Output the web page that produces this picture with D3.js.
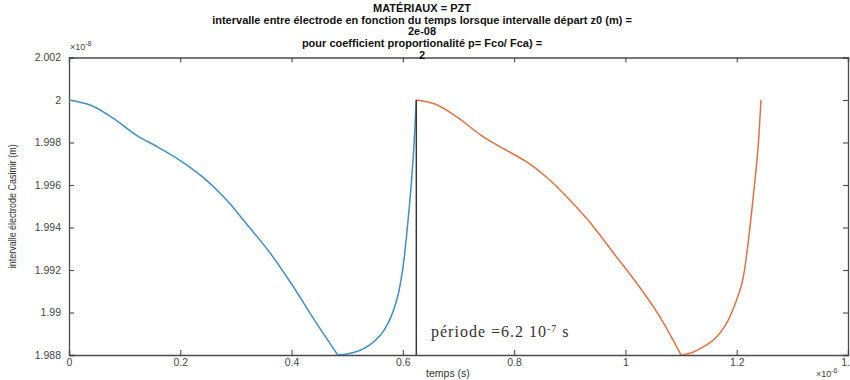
<!DOCTYPE html>
<html>
<head>
<meta charset="utf-8">
<script src="https://cdn.jsdelivr.net/npm/d3@7"></script>
<style>
  body { margin: 0; background: #fff; }
  svg { display: block; }
</style>
</head>
<body>
<div id="chart"></div>
<script>
// # Title lines (bold, centred)
const titleLines = [
  'MATÉRIAUX = PZT',
  'intervalle entre électrode en fonction du temps lorsque intervalle départ z0 (m) =',
  '2e-08',
  'pour coefficient proportionalité p= Fco/ Fca) =',
  '2'
]

// # Axis ticks (time in 1e-6 s, gap in 1e-8 m)
const xTicks = [0, 0.2, 0.4, 0.6, 0.8, 1, 1.2, 1.4]
const yTicks = [1.988, 1.99, 1.992, 1.994, 1.996, 1.998, 2, 2.002]

// # First cycle (blue)
const cycle1T = [0, 0.04, 0.08, 0.12, 0.16, 0.20, 0.24, 0.28, 0.32, 0.36, 0.40, 0.44, 0.483,
  0.50, 0.52, 0.54, 0.56, 0.575, 0.59, 0.60, 0.608, 0.615, 0.62, 0.6242]
const cycle1Z = [2.0, 1.99974, 1.99913, 1.99836, 1.99778, 1.99715, 1.99638, 1.99539, 1.99414,
  1.99285, 1.99134, 1.98969, 1.98800,
  1.98805, 1.98819, 1.98847, 1.98894, 1.98958, 1.99068, 1.99209, 1.99398, 1.99600, 1.99788, 2.0]

// # Second cycle (orange)
const cycle2T = [0.6242, 0.66, 0.70, 0.74, 0.78, 0.82, 0.86, 0.90, 0.94, 0.98, 1.02, 1.06, 1.10,
  1.12, 1.14, 1.16, 1.18, 1.195, 1.21, 1.22, 1.23, 1.238, 1.2436]
const cycle2Z = [2.0, 1.99979, 1.99915, 1.99835, 1.99772, 1.99713, 1.99633, 1.99529, 1.99412,
  1.99275, 1.99139, 1.98988, 1.98800,
  1.98812, 1.98838, 1.98875, 1.98941, 1.99026, 1.99144, 1.99318, 1.99553, 1.99765, 2.0]

// # Period marker
const periodT = 0.6242
const periodLabel = 'période =6.2 10'
const periodExp = '-7'

// # Layout
const width = 850
const height = 380
const plot = {left: 69, right: 848, top: 57.5, bottom: 355}
const axisColor = '#4a4a4a'
const blue = '#3d8ecb'
const orange = '#e0723f'

const svg = d3.select('#chart')
  .append('svg')
  .attr('width', width)
  .attr('height', height)
  .style('font-family', 'Liberation Sans, Arial, sans-serif')

const x = d3.scaleLinear().domain([0, 1.4]).range([plot.left, plot.right])
const y = d3.scaleLinear().domain([1.988, 2.002]).range([plot.bottom, plot.top])

// # Clip for the lines
svg.append('clipPath').attr('id', 'clip')
  .append('rect')
  .attr('x', plot.left).attr('y', plot.top)
  .attr('width', plot.right - plot.left).attr('height', plot.bottom - plot.top)

// # Axes (ticks inward, MATLAB style box)
const tickFmt = d => String(+d.toFixed(3))

const xAxis = svg.append('g')
  .attr('transform', `translate(0,${plot.bottom})`)
  .call(d3.axisBottom(x).tickValues(xTicks).tickSize(-5).tickPadding(4).tickFormat(tickFmt))
const xTop = svg.append('g')
  .attr('transform', `translate(0,${plot.top})`)
  .call(d3.axisTop(x).tickValues(xTicks).tickSize(-5).tickFormat(''))
const yAxis = svg.append('g')
  .attr('transform', `translate(${plot.left},0)`)
  .call(d3.axisLeft(y).tickValues(yTicks).tickSize(-5).tickPadding(8).tickFormat(tickFmt))
const yRight = svg.append('g')
  .attr('transform', `translate(${plot.right},0)`)
  .call(d3.axisRight(y).tickValues(yTicks).tickSize(-5).tickFormat(''))

;[xAxis, xTop, yAxis, yRight].forEach(g => {
  g.select('.domain').attr('stroke', axisColor).attr('stroke-width', 1.3)
  g.selectAll('.tick line').attr('stroke', axisColor).attr('stroke-width', 1.1)
  g.selectAll('.tick text').attr('fill', '#444').style('font-size', '10.5px')
})

// # Exponent labels
const expText = (xx, yy, anchor) => {
  const t = svg.append('text')
    .attr('x', xx).attr('y', yy)
    .attr('text-anchor', anchor)
    .attr('fill', '#444')
    .style('font-size', '9px')
  t.append('tspan').text('×10')
  return t
}
expText(70, 50, 'start').append('tspan').attr('dy', -4).style('font-size', '7px').text('-8')
expText(816, 377, 'start').append('tspan').attr('dy', -4).style('font-size', '7px').text('-6')

// # Lines: each cycle is drawn as a descent and a rise that meet
// # at the minimum, so the bounce keeps its sharp corner.
const line = d3.line()
  .x(d => x(d[0]))
  .y(d => y(d[1]))
  .curve(d3.curveCatmullRom.alpha(0.5))

const lines = svg.append('g').attr('clip-path', 'url(#clip)')
const drawCycle = (ts, zs, color) => {
  const pts = d3.zip(ts, zs)
  const iMin = d3.minIndex(zs)
  ;[pts.slice(0, iMin + 1), pts.slice(iMin)].forEach(seg => {
    lines.append('path')
      .datum(seg)
      .attr('d', line)
      .attr('fill', 'none')
      .attr('stroke', color)
      .attr('stroke-width', 1.5)
      .attr('stroke-linejoin', 'round')
  })
}
drawCycle(cycle1T, cycle1Z, blue)
drawCycle(cycle2T, cycle2Z, orange)

// # Period vertical marker
svg.append('line')
  .attr('x1', x(periodT)).attr('x2', x(periodT))
  .attr('y1', y(2)).attr('y2', y(1.988))
  .attr('stroke', '#3a3a3a')
  .attr('stroke-width', 1.5)

const pt = svg.append('text')
  .attr('x', 431).attr('y', 337)
  .attr('fill', '#333')
  .style('font-family', 'Liberation Serif, Times New Roman, serif')
  .style('font-size', '16px')
  .style('letter-spacing', '1px')
pt.append('tspan').text(periodLabel)
pt.append('tspan').attr('dy', -5).style('font-size', '10px').text(periodExp)
pt.append('tspan').attr('dy', 5).text(' s')

// # Title
svg.append('g').selectAll('text')
  .data(titleLines)
  .join('text')
  .attr('x', 422)
  .attr('y', (d, i) => 12 + i * 11.7)
  .attr('text-anchor', 'middle')
  .attr('fill', '#111')
  .style('font-weight', 'bold')
  .style('font-size', '11px')
  .text(d => d)

// # Axis labels
svg.append('text')
  .attr('x', 448).attr('y', 377)
  .attr('text-anchor', 'middle')
  .attr('fill', '#333')
  .style('font-size', '10.5px')
  .text('temps (s)')

svg.append('text')
  .attr('transform', `translate(16,${(plot.top + plot.bottom) / 2}) rotate(-90)`)
  .attr('text-anchor', 'middle')
  .attr('fill', '#333')
  .attr('textLength', 124)
  .attr('lengthAdjust', 'spacingAndGlyphs')
  .style('font-size', '11px')
  .text('intervalle électrode Casimir (m)')
</script>
</body>
</html>
